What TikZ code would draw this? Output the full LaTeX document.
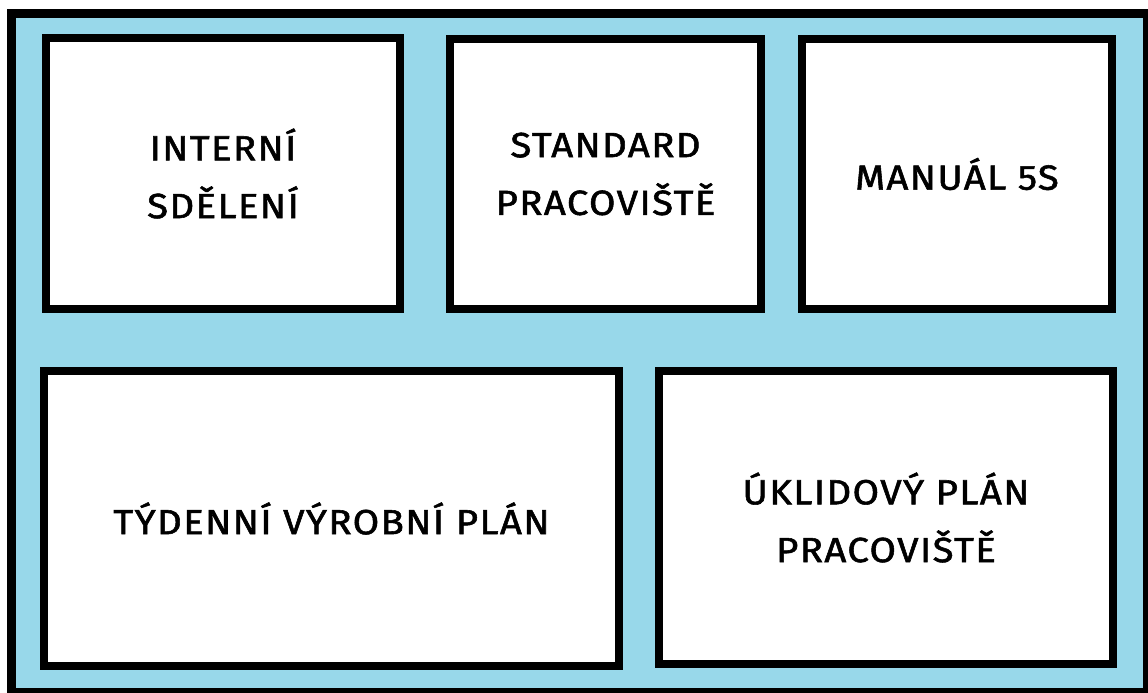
\documentclass[tikz,border=0pt]{standalone}
\usepackage{fontspec}
\setmainfont{Fira Sans}[FakeBold=1.6, FakeStretch=1.1, LetterSpace=4]
\definecolor{panelblue}{RGB}{152,216,234}
\tikzset{
  panel/.style={draw=black, line width=8.5bp, fill=white, align=center,
    inner sep=0pt, font=\fontsize{35}{58}\selectfont},
}
\begin{document}
\begin{tikzpicture}[x=1bp, y=-1bp]
  \useasboundingbox (0,0) rectangle (1148,693);
  \clip (0,0) rectangle (1148,693);
  \fill[white] (0,0) rectangle (1148,693);
  % outer board
  \draw[fill=panelblue, line width=9bp] (11.5,13.5) rectangle (1147.5,692.5);
  % top row
  \node[panel, minimum width=354bp, minimum height=271bp] (interni) at (223,173.5) {INTERNÍ\\SDĚLENÍ};
  \node[panel, minimum width=311bp, minimum height=270bp] (standard) at (605.5,174) {STANDARD\\PRACOVIŠTĚ};
  \node[panel, minimum width=310bp, minimum height=270bp] (manual) at (957,174) {MANUÁL 5S};
  % bottom row
  \node[panel, minimum width=575bp, minimum height=295bp] (tydenni) at (331.5,518.5) {TÝDENNÍ VÝROBNÍ PLÁN};
  \node[panel, minimum width=454bp, minimum height=293bp] (uklid) at (886,517.5) {ÚKLIDOVÝ PLÁN\\PRACOVIŠTĚ};
\end{tikzpicture}
\end{document}
